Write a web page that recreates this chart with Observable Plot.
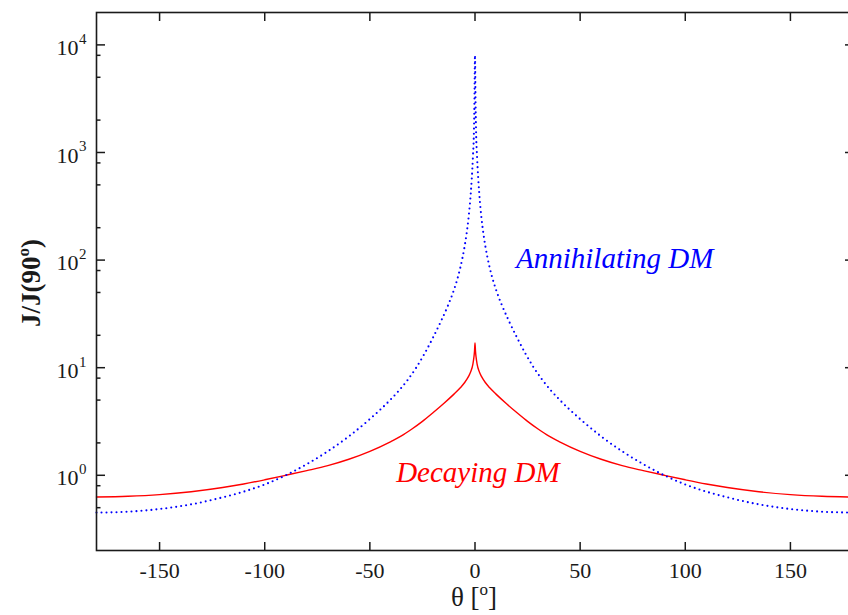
<!DOCTYPE html>
<html>
<head>
<meta charset="utf-8">
<script src="https://cdn.jsdelivr.net/npm/d3@7"></script>
<script src="https://cdn.jsdelivr.net/npm/@observablehq/plot@0.6"></script>
<style>
  html, body { margin: 0; padding: 0; background: #fff; overflow: hidden; }
  #chart { width: 848px; height: 615px; overflow: hidden; }
</style>
</head>
<body>
<div id="chart"></div>
<script>
// Annihilating DM (blue, dotted): theta [deg] and J/J(90°)
const thetaAnn = [-180,-165,-150,-135,-120,-110,-100,-90,-80,-70,-60,-50,-40,-36,-32,-28,-24,-20,-16,-13,-10,-8,-6,-5,-4,-3,-2,-1,-0.5,-0.25,0,
                  0.25,0.5,1,2,3,4,5,6,8,10,13,16,20,24,28,32,36,40,50,60,70,80,90,100,110,120,135,150,165,180];
const jAnn = [0.45,0.459,0.486,0.537,0.624,0.705,0.822,1.0,1.27,1.67,2.3,3.33,5.09,6.18,7.71,9.98,13.5,19.0,27.5,37.2,53.0,71.1,104,132,176,254,422,900,1600,3160,8000,
              3160,1600,900,422,254,176,132,104,71.1,53.0,37.2,27.5,19.0,13.5,9.98,7.71,6.18,5.09,3.33,2.3,1.67,1.27,1.0,0.822,0.705,0.624,0.537,0.486,0.459,0.45];

// Decaying DM (red, solid)
const thetaDec = [-180,-165,-150,-135,-120,-110,-100,-90,-80,-70,-60,-50,-40,-35,-30,-25,-20,-15,-10,-7,-5,-3,-2,-1,-0.5,-0.25,0,
                  0.25,0.5,1,2,3,5,7,10,15,20,25,30,35,40,50,60,70,80,90,100,110,120,135,150,165,180];
const jDec = [0.628,0.638,0.661,0.703,0.769,0.83,0.908,1.0,1.105,1.23,1.41,1.67,2.06,2.32,2.69,3.17,3.81,4.62,5.68,6.5,7.24,8.34,9.2,10.8,12.6,14.1,17,
              14.1,12.6,10.8,9.2,8.34,7.24,6.5,5.68,4.62,3.81,3.17,2.69,2.32,2.06,1.67,1.41,1.23,1.105,1.0,0.908,0.83,0.769,0.703,0.661,0.638,0.628];

// Axis ticks
const xTicks = [-150,-100,-50,0,50,100,150];
const yMajor = [1,10,100,1000,10000];
const yExponents = ["0","1","2","3","4"];
const yMinor = [0.5,0.8,2,5,8,20,50,80,200,500,800,2000,5000,8000];

// Annotations
const annLabel = ["Annihilating DM"], annLabelTheta = [19.5], annLabelJ = [102];
const decLabel = ["Decaying DM"], decLabelTheta = [-37.5], decLabelJ = [1.05];

const annData = thetaAnn.map((t, i) => ({theta: t, j: jAnn[i]}));
const decData = thetaDec.map((t, i) => ({theta: t, j: jDec[i]}));

const FONT = "'Liberation Serif', 'Times New Roman', Times, serif";
const INK = "#1a1a1a";

const svg = Plot.plot({
  width: 848,
  height: 615,
  marginTop: 12,
  marginBottom: 65,
  marginLeft: 96,
  marginRight: -5,
  style: {fontFamily: FONT, fontSize: "22px", background: "white", color: INK},
  x: {domain: [-180, 180]},
  y: {type: "log", domain: [0.2, 20000]},
  marks: [
    Plot.line(decData, {x: "theta", y: "j", stroke: "#ff0000", strokeWidth: 1.4, curve: "monotone-x"}),
    Plot.line(annData, {x: "theta", y: "j", stroke: "#0000ff", strokeWidth: 2.1, strokeDasharray: "0,5",
      strokeLinecap: "round", curve: "monotone-x"}),
    Plot.text(annLabel, {x: (d, i) => annLabelTheta[i], y: (d, i) => annLabelJ[i], text: d => d, textAnchor: "start",
      fill: "#0000ff", fontSize: 29, fontStyle: "italic", fontFamily: FONT}),
    Plot.text(decLabel, {x: (d, i) => decLabelTheta[i], y: (d, i) => decLabelJ[i], text: d => d, textAnchor: "start",
      fill: "#ff0000", fontSize: 29, fontStyle: "italic", fontFamily: FONT}),
    // tick marks, pointing inward
    Plot.axisX(xTicks, {anchor: "bottom", tickSize: -8, tickFormat: () => "", label: null, stroke: INK, strokeWidth: 1.5}),
    Plot.axisX(xTicks, {anchor: "top", tickSize: -8, tickFormat: () => "", label: null, stroke: INK, strokeWidth: 1.5}),
    Plot.axisY(yMajor, {anchor: "left", tickSize: -9, tickFormat: () => "", label: null, stroke: INK, strokeWidth: 1.5}),
    Plot.axisY(yMajor, {anchor: "right", tickSize: -9, tickFormat: () => "", label: null, stroke: INK, strokeWidth: 1.5}),
    Plot.axisY(yMinor, {anchor: "left", tickSize: -4.5, tickFormat: () => "", label: null, stroke: INK, strokeWidth: 1.5}),
    Plot.axisY(yMinor, {anchor: "right", tickSize: -4.5, tickFormat: () => "", label: null, stroke: INK, strokeWidth: 1.5}),
    // x tick labels
    Plot.axisX(xTicks, {anchor: "bottom", tickSize: 0, tickPadding: 12, tickFormat: d => String(d), label: null,
      fontSize: 22, fill: INK}),
    // y tick labels 10^n
    Plot.text(yMajor, {y: d => d, frameAnchor: "left", text: () => "10", textAnchor: "end", dx: -18, dy: 3,
      fontSize: 22, fill: INK, fontFamily: FONT}),
    Plot.text(yMajor, {y: d => d, frameAnchor: "left", text: (d, i) => yExponents[i], textAnchor: "start", dx: -17.5, dy: -6,
      fontSize: 15, fill: INK, fontFamily: FONT}),
    Plot.frame({stroke: INK, strokeWidth: 1.6})
  ]
});

const s = d3.select(svg);
// x axis title: θ [°]
const xt = s.append("text")
  .attr("x", 474).attr("y", 606)
  .attr("text-anchor", "middle")
  .attr("font-family", FONT).attr("font-size", 27).attr("fill", INK);
xt.append("tspan").text("θ [");
xt.append("tspan").attr("font-size", 17).attr("dy", -11).text("o");
xt.append("tspan").attr("dy", 11).text("]");

// y axis title: J/J(90°)
const yt = s.append("text")
  .attr("transform", "translate(40,283) rotate(-90)")
  .attr("text-anchor", "middle")
  .attr("font-family", FONT).attr("font-size", 27).attr("font-weight", "bold").attr("fill", INK);
yt.append("tspan").text("J/J(90");
yt.append("tspan").attr("font-size", 17).attr("dy", -11).text("o");
yt.append("tspan").attr("dy", 11).text(")");

document.getElementById("chart").appendChild(svg);
</script>
</body>
</html>
